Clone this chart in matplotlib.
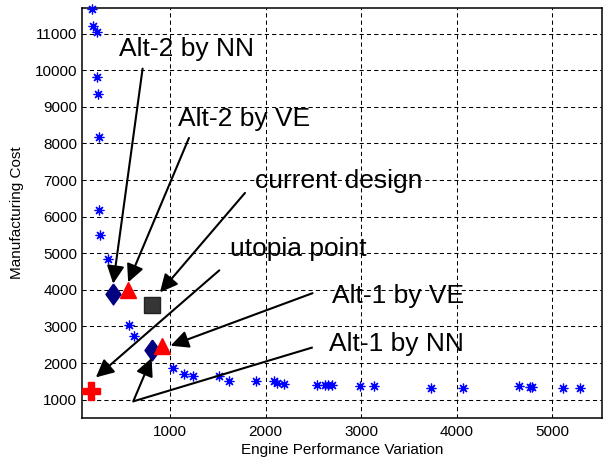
import matplotlib
matplotlib.use("Agg")
import matplotlib.pyplot as plt

plt.rcParams["font.family"] = ["Liberation Sans", "DejaVu Sans"]

# pareto front samples (engine performance variation vs manufacturing cost)
pareto_x = [186, 197, 239, 239, 249, 257, 257, 267, 354, 571, 626, 1028, 1143,
            1238, 1513, 1615, 1897, 2089, 2117, 2194, 2536, 2623, 2658, 2693,
            2990, 3136, 3733, 4071, 4651, 4762, 4787, 5112, 5286]
pareto_y = [11675, 11219, 11046, 9817, 9342, 8186, 6191, 5489, 4852, 3030, 2749,
            1866, 1710, 1637, 1656, 1519, 1519, 1500, 1464, 1437, 1391, 1391,
            1391, 1391, 1383, 1363, 1320, 1320, 1363, 1355, 1355, 1320, 1320]

# designs
nn_x, nn_y = [400, 810], [3900, 2370]          # Alt-2 / Alt-1 by NN
ve_x, ve_y = [560, 915], [4000, 2470]          # Alt-2 / Alt-1 by VE
cur_x, cur_y = [815], [3600]                   # current design
uto_x, uto_y = [175], [1245]                   # utopia point

fig = plt.figure(figsize=(6.05, 4.65), dpi=100)
ax = fig.add_axes([82/605, 47/465, 520/605, 410/465])

ax.plot(pareto_x, pareto_y, ls="none", marker=(8, 2, 0), ms=7, mew=0.9,
        color="#0000ff", clip_on=False, zorder=3)
diamond = [(0, 1), (0.72, 0), (0, -1), (-0.72, 0), (0, 1)]
ax.plot(nn_x, nn_y, ls="none", marker=diamond, ms=15, color="#000080",
        mec="#000080", zorder=4)
ax.plot(ve_x, ve_y, ls="none", marker="^", ms=11, color="#ff0000",
        mec="#ff0000", zorder=5)
ax.plot(cur_x, cur_y, ls="none", marker="s", ms=12, color="#363636",
        mec="#222222", zorder=4)
ax.plot(uto_x, uto_y, ls="none", marker="P", ms=13, color="#ff0000",
        mec="#ff0000", zorder=4)

ap = dict(arrowstyle="-|>,head_length=0.45,head_width=0.22", color="k",
          lw=1.5, mutation_scale=24, shrinkA=0, shrinkB=0)
arrows = [((714, 10044), (406, 4169)),
          ((1199, 8150), (563, 4205)),
          ((1785, 6648), (895, 3932)),
          ((1516, 4533), (225, 1609)),
          ((2492, 3910), (1007, 2475)),
          ((616, 954), (808, 2139))]
for tail, tip in arrows:
    ax.annotate("", xy=tip, xytext=tail, arrowprops=ap, zorder=6)
ax.plot([2494, 616], [2429, 954], color="k", lw=1.5, zorder=6,
        solid_capstyle="butt")

labels = [("Alt-2 by NN", 469, 10380),
          ("Alt-2 by VE", 1081, 8486),
          ("current design", 1890, 6784),
          ("utopia point", 1628, 4915),
          ("Alt-1 by VE", 2693, 3642),
          ("Alt-1 by NN", 2668, 2339)]
for txt, tx, ty in labels:
    ax.text(tx, ty, txt, fontsize=19, ha="left", va="baseline", zorder=7)

ax.set_xlim(80, 5520)
ax.set_ylim(500, 11700)
ax.set_xticks([1000, 2000, 3000, 4000, 5000])
ax.set_yticks(range(1000, 11001, 1000))
ax.grid(True, color="k", lw=0.75, ls=(0, (4, 3)))
ax.tick_params(axis="both", length=0, labelsize=11)
ax.tick_params(axis="x", pad=5)
ax.tick_params(axis="y", pad=3.5)
for s in ax.spines.values():
    s.set_linewidth(1.1)

ax.set_xlabel("Engine Performance Variation", fontsize=11, labelpad=3)
ax.set_ylabel("Manufacturing Cost", fontsize=11, labelpad=8)

fig.savefig("out.png", dpi=100)
